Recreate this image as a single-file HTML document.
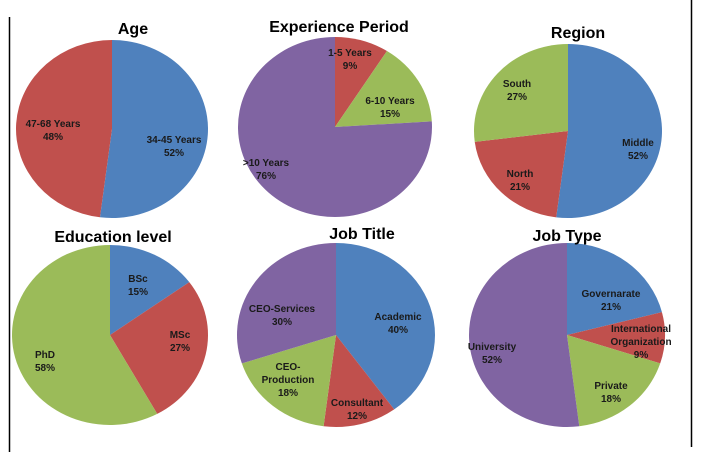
<!DOCTYPE html>
<html><head><meta charset="utf-8"><style>
body{margin:0;background:#fff;}
svg{display:block;font-family:"Liberation Sans",sans-serif;}
.t{font-weight:bold;font-size:16px;fill:#000;text-anchor:middle}
.l{font-weight:bold;font-size:10px;fill:#1a1a1a;text-anchor:middle}
</style></head><body>
<svg id="s" width="707" height="452">
<line x1="9.5" y1="17" x2="9.5" y2="452" stroke="#000" stroke-width="1.5"/>
<line x1="691.5" y1="0" x2="691.5" y2="447" stroke="#000" stroke-width="1.5"/>
</svg>
<script>
const ageLabels=["34-45 Years","47-68 Years"];
const ageValues=[52,48];
const expLabels=["1-5 Years","6-10 Years",">10 Years"];
const expValues=[9,15,76];
const regionLabels=["Middle","North","South"];
const regionValues=[52,21,27];
const eduLabels=["BSc","MSc","PhD"];
const eduValues=[15,27,58];
const jobTitleLabels=["Academic","Consultant","CEO-|Production","CEO-Services"];
const jobTitleValues=[40,12,18,30];
const jobTypeLabels=["Governarate","International|Organization","Private","University"];
const jobTypeValues=[21,9,18,52];

const C={blue:"#4f81bd",red:"#c0504d",green:"#9bbb59",purple:"#8064a2"};
const NS="http://www.w3.org/2000/svg";
const svg=document.getElementById('s');
function mk(tag,attrs){const e=document.createElementNS(NS,tag);for(const k in attrs)e.setAttribute(k,attrs[k]);return e;}
function pie(name,title,tpos,cx,cy,rx,ry,labels,values,colors,lpos){
  const g=mk('g',{});
  
  
  svg.appendChild(g);
  const tot=values.reduce((a,b)=>a+b,0);
  let a0=0;
  values.forEach((v,i)=>{
    const a1=a0+v/tot*2*Math.PI;
    const x0=cx+rx*Math.sin(a0),y0=cy-ry*Math.cos(a0);
    const x1=cx+rx*Math.sin(a1),y1=cy-ry*Math.cos(a1);
    const large=(a1-a0)>Math.PI?1:0;
    const p=mk('path',{d:`M${cx},${cy}L${x0},${y0}A${rx},${ry} 0 ${large} 1 ${x1},${y1}Z`,fill:colors[i]});
    
    
    g.appendChild(p);
    a0=a1;
  });
  labels.forEach((lab,i)=>{
    const [lx,ly]=lpos[i];
    const t=mk('text',{x:lx,y:ly,class:'l'});
    
    
    lab.split('|').concat([values[i]+'%']).forEach((s,k)=>{
      const ts=mk('tspan',{x:lx,dy:k?13:0});ts.textContent=s;t.appendChild(ts);
    });
    g.appendChild(t);
  });
  const tt=mk('text',{x:tpos[0],y:tpos[1],class:'t'});
  
  
  tt.textContent=title;g.appendChild(tt);
}
pie('age','Age',[133,34],112,129,96,89,ageLabels,ageValues,[C.blue,C.red],[[174,143],[53,127]]);
pie('experience','Experience Period',[339,32],335,127,97,90,expLabels,expValues,[C.red,C.green,C.purple],[[350,56],[390,104],[266,166]]);
pie('region','Region',[578,38],568,131,94,87,regionLabels,regionValues,[C.blue,C.red,C.green],[[638,146],[520,177],[517,87]]);
pie('education','Education level',[113,242],110,335,98,90,eduLabels,eduValues,[C.blue,C.red,C.green],[[138,282],[180,338],[45,358]]);
pie('job-title','Job Title',[362,239],336,335,99,92,jobTitleLabels,jobTitleValues,[C.blue,C.red,C.green,C.purple],[[398,320],[357,406],[288,370],[282,312]]);
pie('job-type','Job Type',[567,241],567,335,98,92,jobTypeLabels,jobTypeValues,[C.blue,C.red,C.green,C.purple],[[611,297],[641,332],[611,389],[492,350]]);
</script>
</body></html>
